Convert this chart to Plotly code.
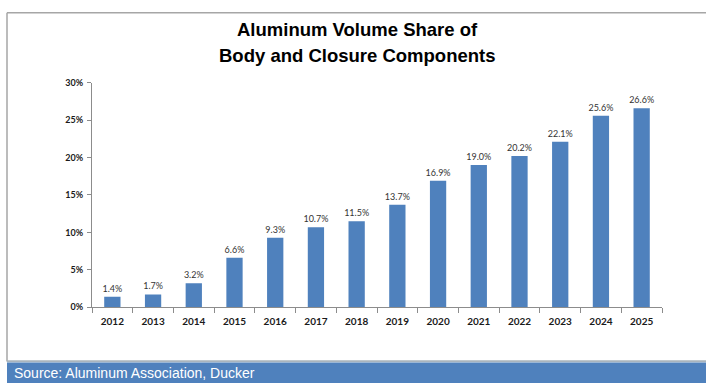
import plotly.graph_objects as go

years = ["2012", "2013", "2014", "2015", "2016", "2017", "2018", "2019",
         "2020", "2021", "2022", "2023", "2024", "2025"]
share = [1.4, 1.7, 3.2, 6.6, 9.3, 10.7, 11.5, 13.7, 16.9, 19.0, 20.2, 22.1, 25.6, 26.6]
labels = [f"{v:.1f}%" for v in share]
title_lines = ["Aluminum Volume Share of", "Body and Closure Components"]
source_text = "Source: Aluminum Association, Ducker"

W, H = 706, 388
BLUE = "#4F81BD"

fig = go.Figure()
fig.add_trace(go.Bar(
    x=years, y=[v / 100 for v in share],
    marker=dict(color=BLUE, line=dict(width=0)),
    text=labels, textposition="outside", cliponaxis=False,
    constraintext="none",
    textfont=dict(family="Lato, Open Sans, sans-serif", size=9, color="#333333"),
    width=0.4,
))

def px(x):
    return x / W

def py(y):
    return 1 - y / H

fig.update_layout(
    width=W, height=H,
    margin=dict(l=0, r=0, t=0, b=0),
    paper_bgcolor="white", plot_bgcolor="white",
    showlegend=False,
    xaxis=dict(
        domain=[px(92), px(662)],
        range=[-0.5, 13.5],
        type="category",
        showline=True, linecolor="#8c8c8c", linewidth=1,
        ticks="outside", ticklen=5, tickcolor="#8c8c8c", tickson="boundaries",
        ticklabelstandoff=5,
        tickfont=dict(family="Lato, Open Sans, sans-serif", size=10, color="#1a1a1a", weight="bold"),
        showgrid=False, zeroline=False,
    ),
    yaxis=dict(
        domain=[py(310), py(79)],
        range=[0, 0.30], dtick=0.05, tickformat=".0%",
        showline=True, linecolor="#8c8c8c", linewidth=1,
        ticks="outside", ticklen=4, tickcolor="#8c8c8c",
        ticklabelstandoff=2,
        tickfont=dict(family="Lato, Open Sans, sans-serif", size=9, color="#1a1a1a", weight="bold"),
        showgrid=False, zeroline=False,
    ),
    shapes=[
        dict(type="line", xref="paper", yref="paper", x0=px(7), x1=1, y0=py(7), y1=py(7),
             line=dict(color="#a6a6a6", width=1.5)),
        dict(type="line", xref="paper", yref="paper", x0=px(7), x1=px(7), y0=py(7), y1=py(366),
             line=dict(color="#a6a6a6", width=1.5)),
        dict(type="line", xref="paper", yref="paper", x0=px(7), x1=1, y0=py(365.5), y1=py(365.5),
             line=dict(color="#a9b4bd", width=2)),
        dict(type="rect", xref="paper", yref="paper", x0=px(7), x1=1, y0=0, y1=py(367),
             fillcolor=BLUE, line=dict(width=0)),
    ],
    annotations=[
        dict(text=title_lines[0], xref="paper", yref="paper", x=px(358), y=py(24),
             xanchor="center", yanchor="middle", showarrow=False,
             font=dict(family="Liberation Sans, Arial, sans-serif", size=18.5, color="#000000", weight="bold")),
        dict(text=title_lines[1], xref="paper", yref="paper", x=px(358), y=py(51),
             xanchor="center", yanchor="middle", showarrow=False,
             font=dict(family="Liberation Sans, Arial, sans-serif", size=18.5, color="#000000", weight="bold")),
        dict(text=source_text, xref="paper", yref="paper", x=px(12), y=py(378),
             xanchor="left", yanchor="middle", showarrow=False,
             font=dict(family="Liberation Sans Narrow, Arial Narrow, Liberation Sans, sans-serif", size=14, color="#ffffff")),
    ],
)

fig.write_html("out.html")
